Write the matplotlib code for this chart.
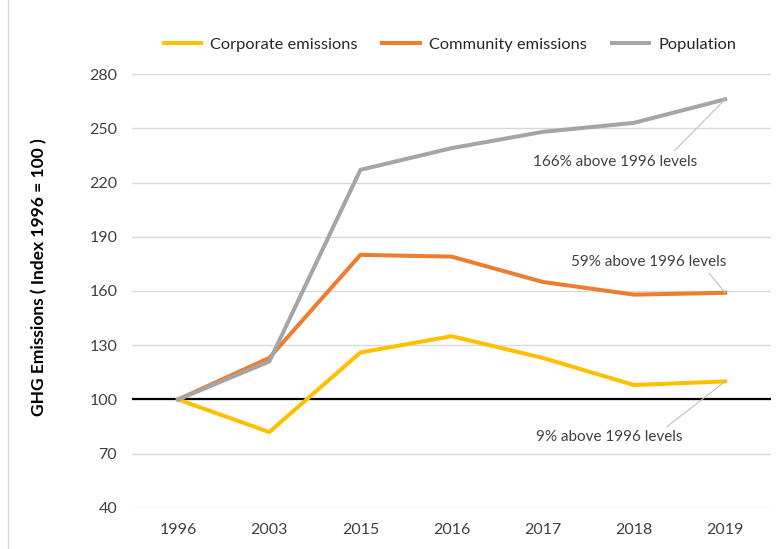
import matplotlib
matplotlib.use("Agg")
import matplotlib.pyplot as plt
from matplotlib.patches import Rectangle

years = ["1996", "2003", "2015", "2016", "2017", "2018", "2019"]
corporate = [100, 82, 126, 135, 123, 108, 110]
community = [100, 123, 180, 179, 165, 158, 159]
population = [100, 121, 227, 239, 248, 253, 266]
yticks = [40, 70, 100, 130, 160, 190, 220, 250, 280]

plt.rcParams['font.family'] = ['Lato', 'DejaVu Sans']

fig = plt.figure(figsize=(7.77, 5.49), dpi=100)
fig.patches.append(Rectangle((0.010, -0.01), 1.0, 1.02, transform=fig.transFigure,
                             fill=False, edgecolor='#D9D9D9', linewidth=1))
ax = fig.add_axes([0.1705, 0.0747, 0.8215, 0.7905])

x = list(range(len(years)))
ax.plot(x, corporate, color='#FFC000', lw=2.9, label='Corporate emissions', solid_joinstyle='round')
ax.plot(x, community, color='#ED7D31', lw=2.9, label='Community emissions', solid_joinstyle='round')
ax.plot(x, population, color='#A5A5A5', lw=2.9, label='Population', solid_joinstyle='round')
ax.axhline(100, color='black', lw=1.6, zorder=1)

ax.set_xlim(-0.5, 6.5)
ax.set_ylim(40, 280)
ax.set_yticks(yticks)
ax.set_xticks(x)
ax.set_xticklabels(years)
ax.grid(axis='y', color='#D9D9D9', lw=1)
ax.set_axisbelow(True)
for s in ax.spines.values():
    s.set_visible(False)
ax.tick_params(length=0, labelsize=11.5, colors='#404040')
ax.tick_params(axis='x', pad=11)
ax.tick_params(axis='y', pad=11)
ax.set_ylabel('GHG Emissions ( Index 1996 = 100 )', fontsize=12.5, fontweight='bold')
ax.yaxis.set_label_coords(-0.133, 0.532)

leg = fig.legend(loc='center', bbox_to_anchor=(0.579, 0.919), ncol=3, frameon=False,
                 fontsize=11.8, handlelength=2.3, columnspacing=1.5, handletextpad=0.55)
for t in leg.get_texts():
    t.set_color('#262626')

ann_col = '#404040'
ax.annotate('166% above 1996 levels', xy=(6, population[-1]), xytext=(4.79, 231.6),
            fontsize=11, color=ann_col, ha='center', va='center',
            arrowprops=dict(arrowstyle='-', color='#BFBFBF', lw=0.8, shrinkA=1, shrinkB=0,
                            relpos=(0.84, 1.0)))
ax.annotate('59% above 1996 levels', xy=(6, community[-1]), xytext=(5.16, 175.8),
            fontsize=11, color=ann_col, ha='center', va='center',
            arrowprops=dict(arrowstyle='-', color='#BFBFBF', lw=0.8, shrinkA=1, shrinkB=0,
                            relpos=(0.87, 0.0)))
ax.annotate('9% above 1996 levels', xy=(6, corporate[-1]), xytext=(4.73, 79),
            fontsize=11, color=ann_col, ha='center', va='center',
            arrowprops=dict(arrowstyle='-', color='#BFBFBF', lw=0.8, shrinkA=1, shrinkB=0,
                            relpos=(0.86, 1.0)))

fig.savefig('out.png', dpi=100)
